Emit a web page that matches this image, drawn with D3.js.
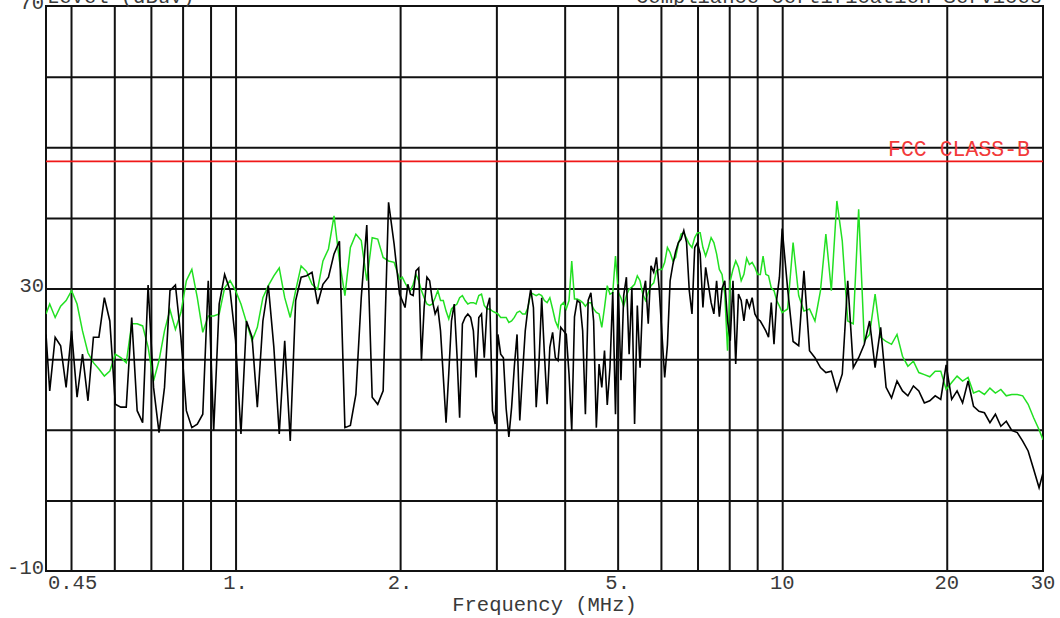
<!DOCTYPE html>
<html>
<head>
<meta charset="utf-8">
<script src="https://cdn.jsdelivr.net/npm/d3@7"></script>
<style>
  html, body { margin: 0; padding: 0; background: #fff; }
  svg { display: block; }
  text { font-family: "Liberation Mono", "Courier New", monospace; }
</style>
</head>
<body>
<svg id="chart"></svg>
<script>
// sweep points, frequency in MHz
const freqMHz = [
  // 0.45 - 1 MHz
  0.45, 0.4571, 0.4677, 0.4786, 0.4898, 0.5012, 0.5129, 0.5248, 0.5370, 0.5495,
  0.5623, 0.5754, 0.5888, 0.6026, 0.6166, 0.6310, 0.6457, 0.6607, 0.6761, 0.6918,
  0.7079, 0.7244, 0.7413, 0.7586, 0.7762, 0.7943, 0.8128, 0.8318, 0.8511, 0.8710,
  0.8913, 0.9120, 0.9333, 0.9550, 0.9772,
  // 1 - 2 MHz
  1.000, 1.023, 1.047, 1.072, 1.096, 1.122, 1.148, 1.175, 1.202, 1.230,
  1.259, 1.288, 1.318, 1.349, 1.380, 1.413, 1.445, 1.479, 1.514, 1.549,
  1.585, 1.622, 1.660, 1.698, 1.738, 1.778, 1.820, 1.862, 1.905, 1.950,
  // 2 - 5 MHz
  1.995, 2.018, 2.042, 2.066, 2.089, 2.113, 2.138, 2.163, 2.188, 2.213,
  2.239, 2.265, 2.291, 2.318, 2.344, 2.371, 2.399, 2.427, 2.455, 2.483,
  2.512, 2.541, 2.570, 2.600, 2.630, 2.660, 2.692, 2.723, 2.754, 2.786,
  2.818, 2.851, 2.884, 2.917, 2.951, 2.985, 3.020, 3.055, 3.090, 3.126,
  3.162, 3.199, 3.236, 3.273, 3.311, 3.349, 3.388, 3.427, 3.467, 3.507,
  3.548, 3.589, 3.631, 3.673, 3.715, 3.758, 3.802, 3.846, 3.890, 3.935,
  3.981, 4.027, 4.074, 4.121, 4.169, 4.217, 4.266, 4.315, 4.365, 4.416,
  4.467, 4.519, 4.571, 4.624, 4.677, 4.731, 4.786, 4.841, 4.898, 4.955,
  // 5 - 10 MHz
  5.012, 5.070, 5.129, 5.188, 5.248, 5.309, 5.370, 5.432, 5.495, 5.559,
  5.623, 5.688, 5.754, 5.821, 5.888, 5.956, 6.026, 6.096, 6.166, 6.237,
  6.310, 6.383, 6.457, 6.532, 6.607, 6.684, 6.761, 6.839, 6.918, 6.998,
  7.079, 7.161, 7.244, 7.328, 7.413, 7.499, 7.586, 7.674, 7.762, 7.852,
  7.943, 8.035, 8.128, 8.222, 8.318, 8.414, 8.511, 8.610, 8.710, 8.811,
  8.913, 9.016, 9.120, 9.226, 9.333, 9.441, 9.550, 9.661, 9.772, 9.885,
  // 10 - 20 MHz
  10.00, 10.23, 10.47, 10.72, 10.96, 11.22, 11.48, 11.75, 12.02, 12.30,
  12.59, 12.88, 13.18, 13.49, 13.80, 14.13, 14.45, 14.79, 15.14, 15.49,
  15.85, 16.22, 16.60, 16.98, 17.38, 17.78, 18.20, 18.62, 19.05, 19.50,
  // 20 - 30 MHz
  19.95, 20.42, 20.89, 21.38, 21.88, 22.39, 22.91, 23.44, 23.99, 24.55,
  25.12, 25.70, 26.30, 26.92, 27.54, 28.18, 28.84, 29.51, 30.00
];

// green trace (dBuV)
const greenLevel = [
  26.4, 27.8, 25.9, 27.5, 28.3, 29.7, 27.8, 24.0, 20.9, 19.5,
  18.6, 17.6, 18.3, 20.7, 20.2, 19.5, 25.0, 25.0, 24.7, 21.7,
  16.9, 19.8, 24.0, 27.0, 24.2, 26.6, 31.1, 32.7, 28.7, 23.8,
  26.1, 26.1, 26.4, 30.1, 31.1,

  29.7, 27.8, 25.2, 22.6, 24.5, 28.7, 30.4, 31.8, 32.9, 28.7,
  25.9, 29.7, 33.2, 32.4, 30.6, 29.9, 33.9, 35.6, 40.3, 33.9,
  29.0, 35.8, 37.7, 36.8, 31.1, 37.2, 37.0, 34.4, 33.9, 33.7,

  31.3, 31.6, 30.8, 30.1, 29.7, 30.6, 32.0, 31.1, 29.7, 28.7,
  27.8, 27.6, 27.8, 28.7, 29.7, 28.3, 28.3, 26.8, 25.7, 27.1,
  27.5, 27.8, 28.7, 29.0, 28.3, 27.8, 28.0, 28.0, 27.8, 29.0,
  29.2, 27.6, 27.1, 27.1, 26.8, 26.6, 26.4, 25.9, 25.9, 25.9,
  25.2, 25.4, 25.9, 26.6, 26.8, 26.4, 26.4, 27.3, 29.4, 29.2,
  29.0, 29.2, 29.0, 28.3, 28.0, 28.7, 27.1, 25.4, 24.5, 27.6,
  28.0, 27.1, 28.3, 33.9, 28.5, 28.5, 28.3, 28.0, 27.5, 28.0,
  28.0, 27.1, 26.6, 26.4, 24.5, 27.3, 30.4, 29.2, 29.4, 34.6,

  29.5, 28.7, 27.5, 29.0, 29.9, 30.2, 30.6, 31.8, 31.1, 29.2,
  28.3, 29.4, 30.4, 30.8, 32.5, 32.7, 32.7, 33.7, 35.8, 35.1,
  33.9, 34.4, 36.3, 37.7, 37.9, 37.1, 36.3, 35.8, 37.2, 37.9,
  37.9, 35.8, 34.6, 35.8, 37.2, 36.5, 34.9, 32.7, 32.0, 29.2,
  21.2, 31.1, 32.7, 33.9, 33.0, 31.1, 32.0, 34.3, 33.4, 33.7,
  33.0, 32.0, 32.0, 34.6, 32.0, 31.8, 30.1, 29.7, 28.3, 27.5,

  26.6, 27.1, 36.5, 29.0, 26.8, 27.1, 25.4, 29.7, 37.7, 29.7,
  42.4, 36.7, 25.4, 25.0, 41.2, 22.6, 23.5, 29.2, 23.1, 22.5,
  22.1, 23.5, 20.4, 19.0, 19.7, 18.1, 17.8, 17.5, 18.3, 18.3,

  15.7, 16.7, 17.6, 16.9, 17.4, 15.2, 15.5, 15.0, 15.9, 15.2,
  15.7, 14.8, 15.0, 15.0, 14.8, 13.6, 11.7, 10.0, 8.6
];

// black trace (dBuV)
const blackLevel = [
  23.5, 15.5, 23.1, 21.9, 16.0, 24.0, 14.6, 20.7, 14.1, 23.1,
  23.1, 28.7, 25.4, 13.6, 13.2, 13.2, 25.9, 12.7, 11.0, 30.5,
  16.0, 9.6, 16.0, 29.7, 30.5, 23.1, 12.7, 10.3, 10.8, 12.2,
  31.1, 9.9, 27.8, 32.0, 29.7,

  22.6, 9.4, 25.4, 23.1, 13.2, 25.4, 30.4, 21.7, 9.4, 22.6,
  8.4, 28.3, 31.6, 31.8, 32.3, 27.8, 30.6, 31.6, 34.9, 36.7,
  10.3, 10.6, 15.0, 28.7, 39.0, 14.6, 13.6, 15.5, 42.2, 36.3,

  29.2, 28.3, 27.3, 30.6, 29.2, 29.0, 32.5, 32.9, 19.8, 27.3,
  31.6, 31.1, 28.3, 26.4, 27.3, 24.0, 17.5, 11.0, 18.0, 25.4,
  27.8, 20.7, 11.7, 25.0, 25.9, 26.4, 25.9, 24.0, 17.4, 25.9,
  26.4, 20.2, 27.3, 28.7, 12.7, 10.8, 23.5, 20.7, 20.2, 13.0,
  9.0, 13.2, 19.0, 23.5, 11.3, 17.9, 24.0, 27.3, 29.9, 27.3,
  13.2, 19.3, 28.7, 20.7, 13.6, 21.7, 23.8, 20.2, 19.8, 24.5,
  24.0, 23.5, 17.9, 9.9, 26.0, 28.3, 28.0, 24.0, 12.2, 28.3,
  29.4, 25.4, 10.3, 19.3, 16.0, 21.2, 13.5, 18.8, 29.5, 12.2,

  30.6, 17.0, 29.0, 31.6, 20.7, 30.1, 10.8, 27.6, 18.8, 29.0,
  31.1, 25.0, 33.2, 32.3, 34.4, 30.0, 23.5, 17.4, 22.0, 31.1,
  33.4, 35.2, 36.5, 37.0, 38.2, 36.5, 29.7, 26.4, 35.8, 36.5,
  34.9, 27.3, 33.0, 30.5, 28.0, 26.4, 31.1, 26.0, 30.0, 31.1,
  25.4, 22.6, 31.1, 19.3, 29.2, 28.3, 25.4, 28.5, 27.3, 28.7,
  26.4, 25.7, 25.4, 24.7, 24.0, 23.1, 28.0, 22.1, 28.5, 31.6,

  38.5, 30.0, 22.5, 21.9, 32.5, 21.2, 20.2, 18.8, 18.1, 18.3,
  15.5, 17.9, 31.1, 18.8, 20.2, 22.1, 25.4, 18.8, 24.5, 16.0,
  14.5, 16.9, 15.5, 14.8, 16.2, 15.5, 13.8, 14.1, 14.8, 14.3,

  19.2, 14.3, 15.5, 13.8, 16.9, 13.3, 12.6, 12.4, 11.0, 12.2,
  10.5, 11.2, 9.9, 9.6, 8.4, 7.0, 4.4, 1.8, 3.9
];

const limitLevel = 48;
const limitLabel = "FCC CLASS-B";

const gridFreqs = [0.5, 0.6, 0.7, 0.8, 0.9, 1, 2, 3, 4, 5, 6, 7, 8, 9, 10, 20];
const gridLevels = [0, 10, 20, 30, 40, 50, 60];
const xTickValues = [0.45, 1, 2, 5, 10, 20, 30];
const xTickLabels = ["0.45", "1.", "2.", "5.", "10", "20", "30"];
const yTickValues = [70, 30, -10];
const yTickLabels = ["70", "30", "-10"];

const W = 1060, H = 618;
const plot = { left: 46, right: 1043, top: 6, bottom: 571 };

const svg = d3.select("#chart").attr("width", W).attr("height", H);

const x = d3.scaleLog().domain([0.45, 30]).range([plot.left, plot.right]);
const y = d3.scaleLinear().domain([-10, 70]).range([plot.bottom, plot.top]);

// grid
svg.append("g")
  .attr("transform", `translate(0,${plot.bottom})`)
  .call(d3.axisBottom(x).tickValues(gridFreqs).tickSize(-(plot.bottom - plot.top)).tickFormat(""))
  .call(g => g.select(".domain").remove())
  .selectAll("line").attr("stroke", "#111").attr("stroke-width", 2);

svg.append("g")
  .attr("transform", `translate(${plot.left},0)`)
  .call(d3.axisLeft(y).tickValues(gridLevels).tickSize(-(plot.right - plot.left)).tickFormat(""))
  .call(g => g.select(".domain").remove())
  .selectAll("line").attr("stroke", "#111").attr("stroke-width", 2);

svg.append("rect")
  .attr("x", plot.left).attr("y", plot.top)
  .attr("width", plot.right - plot.left).attr("height", plot.bottom - plot.top)
  .attr("fill", "none").attr("stroke", "#111").attr("stroke-width", 2);

// limit line
svg.append("line")
  .attr("x1", plot.left).attr("x2", plot.right)
  .attr("y1", y(limitLevel)).attr("y2", y(limitLevel))
  .attr("stroke", "#f01818").attr("stroke-width", 1.6);

svg.append("text")
  .attr("x", 1030).attr("y", y(limitLevel) - 5)
  .attr("text-anchor", "end")
  .attr("fill", "#f23a3a")
  .style("font-size", "21.5px")
  .text(limitLabel);

// traces
svg.append("clipPath").attr("id", "clip")
  .append("rect")
  .attr("x", plot.left).attr("y", plot.top)
  .attr("width", plot.right - plot.left).attr("height", plot.bottom - plot.top);

const line = d3.line()
  .x(d => x(d[0]))
  .y(d => y(d[1]));

svg.append("path")
  .datum(freqMHz.map((f, i) => [f, greenLevel[i]]))
  .attr("clip-path", "url(#clip)")
  .attr("fill", "none")
  .attr("stroke", "#22e022")
  .attr("stroke-width", 1.5)
  .attr("d", line);

svg.append("path")
  .datum(freqMHz.map((f, i) => [f, blackLevel[i]]))
  .attr("clip-path", "url(#clip)")
  .attr("fill", "none")
  .attr("stroke", "#000")
  .attr("stroke-width", 1.6)
  .attr("d", line);

// tick labels
svg.selectAll("text.xlab")
  .data(xTickValues)
  .join("text")
  .attr("class", "xlab")
  .attr("x", (d, i) => i === 0 ? x(d) + 2 : x(d))
  .attr("y", 589)
  .attr("text-anchor", (d, i) => i === 0 ? "start" : "middle")
  .attr("fill", "#3a3a3a")
  .style("font-size", "20.5px")
  .text((d, i) => xTickLabels[i]);

svg.selectAll("text.ylab")
  .data(yTickValues)
  .join("text")
  .attr("class", "ylab")
  .attr("x", plot.left - 2)
  .attr("y", d => y(d) + 3)
  .attr("text-anchor", "end")
  .attr("fill", "#3a3a3a")
  .style("font-size", "20.5px")
  .text((d, i) => yTickLabels[i]);

svg.append("text")
  .attr("x", (plot.left + plot.right) / 2)
  .attr("y", 611)
  .attr("text-anchor", "middle")
  .attr("fill", "#3a3a3a")
  .style("font-size", "20.5px")
  .text("Frequency (MHz)");

// header lines, cut off at the top edge as in the original print
svg.append("text")
  .attr("x", plot.left + 1).attr("y", 2.5)
  .attr("fill", "#3a3a3a")
  .style("font-size", "20.5px")
  .text("Level (dBuV)");

svg.append("text")
  .attr("x", 1042).attr("y", 2.5)
  .attr("text-anchor", "end")
  .attr("fill", "#3a3a3a")
  .style("font-size", "20.5px")
  .text("Compliance Certification Services");
</script>
</body>
</html>
